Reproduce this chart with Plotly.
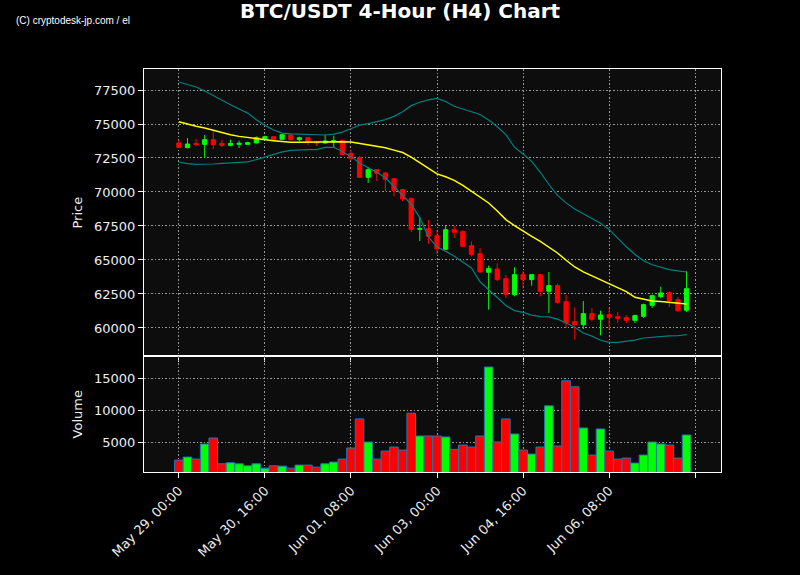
import plotly.graph_objects as go
import pandas as pd

# ---- data ----
times = pd.date_range("2024-05-29 00:00", periods=60, freq="4h")

open_ = [73603, 73260, 73578, 73505, 73848, 73578, 73431, 73505, 73505, 73603,
         73922, 74069, 73873, 74191, 73848, 73995, 73701, 73603, 73701, 73799,
         72843, 72524, 71078, 71642, 71397, 70980, 70171, 69510, 67255, 67304,
         66789, 65784, 67230, 67083, 66054, 65466, 64093, 64338, 63627, 62451,
         63922, 63554, 63922, 62696, 63113, 61936, 60466, 60245, 61054, 60637,
         60980, 60833, 60760, 60564, 60858, 61667, 62304, 62598, 62083, 61299]
high = [73848, 73971, 73897, 74191, 74461, 73824, 73848, 73775, 73701, 74093,
        74142, 74093, 74240, 74240, 74069, 74020, 73775, 74216, 74142, 73848,
        73113, 72647, 71838, 71691, 71470, 71029, 70220, 69608, 68161, 67941,
        67230, 67525, 67525, 67181, 66373, 65882, 64583, 64755, 63897, 64461,
        64167, 63971, 63971, 64118, 63260, 62426, 61520, 61985, 61471, 61275,
        61446, 61176, 60931, 60980, 61789, 62451, 63040, 62672, 62279, 64167]
low = [73211, 73211, 73358, 72500, 73162, 73309, 73358, 73235, 73480, 73578,
       73897, 73848, 73848, 73775, 73701, 73456, 73382, 73554, 73235, 72720,
       72304, 71054, 70662, 70809, 70073, 69681, 69338, 67059, 66397, 66176,
       65417, 65760, 66617, 65956, 65245, 64069, 61348, 63456, 62206, 62328,
       62917, 63113, 62328, 61103, 61789, 60000, 59142, 59926, 60490, 59461,
       59902, 60368, 60368, 60368, 60735, 61471, 62181, 61544, 61176, 61176]
close = [73284, 73529, 73480, 73848, 73480, 73431, 73578, 73578, 73627, 73995,
         74069, 73873, 74216, 73848, 73995, 73676, 73603, 73750, 73775, 72745,
         72451, 71078, 71642, 71372, 70931, 70122, 69485, 67255, 67304, 66740,
         65809, 67230, 67034, 66005, 65417, 64118, 64363, 63554, 62475, 63922,
         63554, 63922, 62696, 63113, 61887, 60368, 60245, 61054, 60637, 60956,
         60784, 60711, 60564, 60907, 61716, 62377, 62573, 62010, 61275, 62892]
volume = [2143, 2619, 2302, 4683, 5635, 1561, 1720, 1561, 1243, 1561,
          873, 1243, 1190, 873, 1349, 1349, 1032, 1561, 1825, 2302,
          4048, 8651, 5000, 2302, 3571, 4206, 3730, 9550, 5952, 5952,
          5952, 5794, 3836, 4524, 4206, 5952, 16852, 5000, 8651, 6270,
          3730, 3095, 4206, 10714, 4365, 14683, 13730, 7222, 2937, 7063,
          3571, 2302, 2460, 1667, 2937, 5000, 4683, 4524, 2460, 6111]
ma = [75172, 74990, 74830, 74700, 74520, 74350, 74210, 74090, 74000, 73920,
      73840, 73775, 73710, 73650, 73650, 73660, 73690, 73700, 73700, 73690,
      73670, 73580, 73460, 73350, 73260, 73080, 72900, 72560, 72150, 71760,
      71330, 71120, 70858, 70480, 70049, 69650, 69191, 68600, 67966, 67520,
      67108, 66740, 66373, 65950, 65515, 64980, 64485, 64130, 63848, 63530,
      63250, 62950, 62680, 62260, 62110, 61990, 61950, 61870, 61820, 61765]
bb_upper = [78090, 77930, 77720, 77420, 77070, 76750, 76420, 76100, 75800, 75319,
            74900, 74560, 74330, 74270, 74250, 74230, 74210, 74190, 74250, 74400,
            74650, 74920, 75030, 75160, 75320, 75560, 75900, 76350, 76600, 76780,
            76887, 76650, 76300, 76100, 75900, 75700, 75300, 74800, 74216, 73300,
            72800, 72250, 71450, 70550, 69750, 69200, 68750, 68400, 68050, 67700,
            67250, 66600, 65970, 65410, 64950, 64650, 64450, 64289, 64200, 64118]
bb_lower = [72206, 72080, 72034, 72034, 72060, 72108, 72140, 72180, 72220, 72377,
            72560, 72745, 72950, 73060, 73113, 73113, 73113, 73284, 73284, 72980,
            72600, 72132, 71780, 71450, 71050, 70400, 69750, 69100, 68100, 66700,
            65950, 65650, 65270, 64850, 64412, 63400, 62800, 62200, 61650, 61280,
            61150, 60950, 60830, 60810, 60650, 60370, 60050, 59632, 59400, 59100,
            58946, 58946, 59000, 59110, 59264, 59320, 59400, 59420, 59430, 59510]

tick_times = ["2024-05-29 00:00", "2024-05-30 16:00", "2024-06-01 08:00",
              "2024-06-03 00:00", "2024-06-04 16:00", "2024-06-06 08:00",
              "2024-06-08 00:00"]
tick_labels = ["May 29, 00:00", "May 30, 16:00", "Jun 01, 08:00",
               "Jun 03, 00:00", "Jun 04, 16:00", "Jun 06, 08:00", ""]

UP, DOWN = "#00ff00", "#ff0000"
vol_colors = [UP if c >= o else DOWN for o, c in zip(open_, close)]
period_ms = 4 * 3600 * 1000

fig = go.Figure()
fig.add_trace(go.Scatter(x=times, y=bb_upper, mode="lines",
                         line=dict(color="#008080", width=1.2), xaxis="x", yaxis="y"))
fig.add_trace(go.Scatter(x=times, y=bb_lower, mode="lines",
                         line=dict(color="#008080", width=1.2), xaxis="x", yaxis="y"))
fig.add_trace(go.Candlestick(
    x=times, open=open_, high=high, low=low, close=close,
    increasing=dict(line=dict(color=UP, width=1), fillcolor=UP),
    decreasing=dict(line=dict(color=DOWN, width=1), fillcolor=DOWN),
    xaxis="x", yaxis="y"))
fig.add_trace(go.Scatter(x=times, y=ma, mode="lines",
                         line=dict(color="#ffff00", width=1.5), xaxis="x", yaxis="y"))
fig.add_trace(go.Bar(x=times, y=volume, width=[period_ms] * len(times),
                     marker=dict(color=vol_colors, line=dict(color="#1f77b4", width=1)),
                     xaxis="x2", yaxis="y2"))

font_main = "DejaVu Sans"
tickfont = dict(family=font_main, size=13, color="#eeeeee")
grid = dict(showgrid=True, gridcolor="#9a9a9a", griddash="1.5px,2px", gridwidth=1)
frame = dict(showline=True, mirror=True, linecolor="white", linewidth=1,
             ticks="outside", ticklen=5, tickcolor="white", tickwidth=1,
             zeroline=False, automargin=False)
xrange_ = ["2024-05-28 07:48", "2024-06-08 12:00"]

W, H = 800, 575
split = 0.2869
fig.update_layout(
    width=W, height=H,
    margin=dict(l=144.4, r=79.4, t=69.3, b=102.7),
    paper_bgcolor="black", plot_bgcolor="#0d0d0d",
    showlegend=False,
    title=dict(text="BTC/USDT 4-Hour (H4) Chart", x=0.5, xanchor="center",
               xref="container", y=1 - 11 / H, yanchor="middle", yref="container",
               font=dict(family=font_main, size=20, color="white", weight="bold")),
    xaxis=dict(domain=[0, 1], anchor="y", type="date", range=xrange_,
               tickvals=tick_times, ticktext=[""] * len(tick_times),
               rangeslider=dict(visible=False), matches="x2", **grid, **frame),
    xaxis2=dict(domain=[0, 1], anchor="y2", type="date", range=xrange_,
                tickvals=tick_times, ticktext=tick_labels, tickangle=-45,
                tickfont=tickfont, **grid, **frame),
    yaxis=dict(domain=[split, 1], anchor="x", range=[57912, 79044],
               tickvals=[60000, 62500, 65000, 67500, 70000, 72500, 75000, 77500],
               tickformat="d", tickfont=tickfont,
               title=dict(text="Price", font=dict(family=font_main, size=13, color="#eeeeee"),
                          standoff=8),
               **grid, **frame),
    yaxis2=dict(domain=[0, split], anchor="x2", range=[262, 18537],
                tickvals=[5000, 10000, 15000], tickformat="d", tickfont=tickfont,
                title=dict(text="Volume", font=dict(family=font_main, size=13, color="#eeeeee"),
                           standoff=8),
                **grid, **frame),
    annotations=[dict(text="(C) cryptodesk-jp.com / el", xref="paper", yref="paper",
                      x=(15 - 144.4) / 576.2, y=(472.3 - 21) / 403,
                      xanchor="left", yanchor="middle", showarrow=False,
                      font=dict(family="Liberation Sans Narrow, Liberation Sans", size=10,
                                color="white"))],
)

fig.write_html("out.html",
               config={"displayModeBar": False},
               post_script="document.body.style.margin='0';"
                           "document.body.style.background='black';")
